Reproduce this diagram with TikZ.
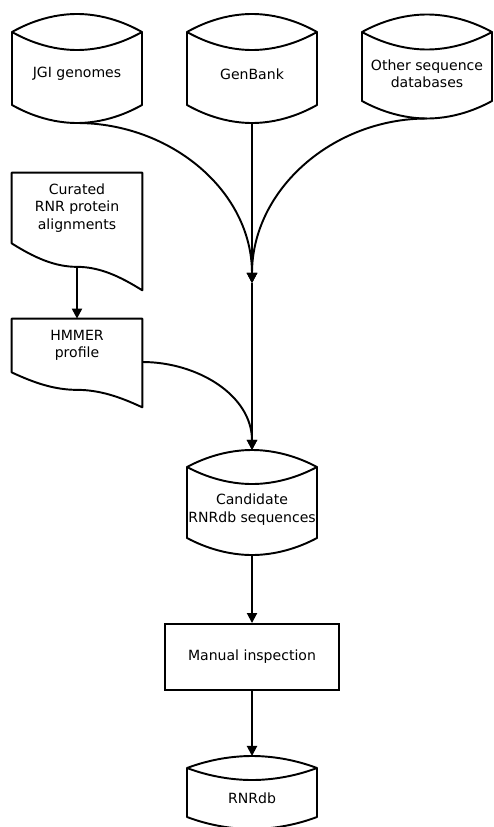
\documentclass[tikz,border=0pt]{standalone}
\usepackage{fontspec}
\setmainfont{DejaVu Sans}
\usetikzlibrary{calc,positioning,arrows.meta}

\begin{document}
\begin{tikzpicture}[
    txt/.style={align=center, font=\fontsize{8}{9.9}\selectfont, inner sep=0pt},
    doc/.style={txt, minimum width=2.6cm},
    proc/.style={txt, draw, line width=1.1pt, minimum width=3.48cm, minimum height=1.32cm},
    shp/.style={line width=1.1pt, line join=round},
    link/.style={line width=1.1pt, -{Triangle[length=5.7pt,width=5.7pt]}}
  ]
    \useasboundingbox (0,0) rectangle (9.88,-16.54);

    % databases
    \node[txt] (jgi) at (1.54,-1.48) {JGI genomes};
    \node[txt] (genbank) at (5.04,-1.48) {GenBank};
    \node[txt] (other) at (8.54,-1.47) {Other sequence\\databases};
    \node[txt] (cand) at (5.04,-10.19) {Candidate\\RNRdb sequences};
    \node[txt] (rnrdb) at (5.04,-15.96) {RNRdb};

    \foreach \n/\topy/\boty/\lensy in {jgi/0.84/0.62/0.36, genbank/0.84/0.62/0.36, other/0.83/0.55/0.35, cand/0.85/0.57/0.34, rnrdb/0.6/0.38/0.24} {
        \draw[shp] ($(\n)+(-1.3,\topy)$) parabola bend ($(\n)+(0,\topy+\lensy)$) ($(\n)+(1.3,\topy)$)
            -- ($(\n)+(1.3,-\boty)$) parabola bend ($(\n)+(0,-\boty-\lensy)$) ($(\n)+(-1.3,-\boty)$) -- cycle;
        \draw[shp] ($(\n)+(-1.3,\topy)$) parabola bend ($(\n)+(0,\topy-\lensy)$) ($(\n)+(1.3,\topy)$);
        \coordinate (\n-top) at ($(\n)+(0,\topy+\lensy)$);
        \coordinate (\n-bot) at ($(\n)+(0,-\boty-\lensy)$);
    }

    % documents
    \node[doc, minimum height=1.4cm] (cur) at (1.54,-4.16) {Curated\\RNR protein\\alignments};
    \node[doc, minimum height=1.06cm] (hmm) at (1.54,-6.91) {HMMER\\profile};

    \foreach \n/\wv in {cur/0.94, hmm/0.7} {
        \draw[shp] (\n.south west) -- (\n.north west) -- (\n.north east) -- ($(\n.south east)+(0,-\wv)$)
            .. controls +(-0.45,0.3*\wv) and ($(\n.south)+(0.45,-0.5*\wv)$) .. ($(\n.south)+(0,-0.5*\wv)$)
            .. controls +(-0.45,0) and ($(\n.south west)+(0.45,-0.3*\wv)$) .. (\n.south west) -- cycle;
        \coordinate (\n-bot) at ($(\n.south)+(0,-0.5*\wv)$);
    }

    \node[proc] (man) at (5.04,-13.14) {Manual inspection};

    % connectors
    \coordinate (merge) at (5.04,-5.66);
    \draw[link] (jgi-bot) to[out=0,in=90] (merge);
    \draw[link] (genbank-bot) -- (merge);
    \draw[link] (other-bot) to[out=180,in=90] (merge);
    \draw[link] (merge) -- (cand-top);
    \draw[link] (cur-bot) -- (hmm.north);
    \coordinate (hmm-out) at ($(hmm.east)+(0,-0.33)$);
    \draw[link] (hmm-out) to[out=0,in=90] (cand-top);
    \draw[link] (cand-bot) -- (man);
    \draw[link] (man) -- (rnrdb-top);
\end{tikzpicture}
\end{document}
